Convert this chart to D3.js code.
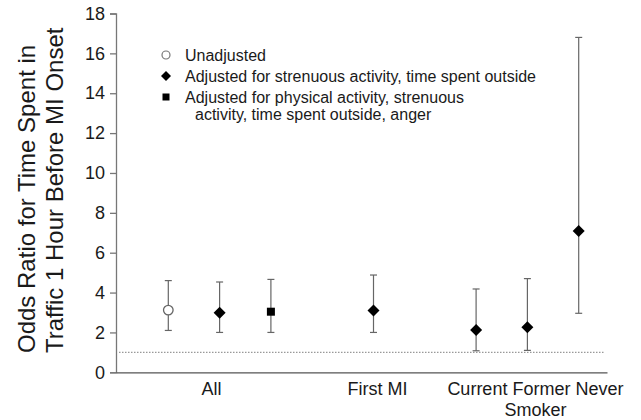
<!DOCTYPE html>
<html>
<head>
<meta charset="utf-8">
<script src="https://cdn.jsdelivr.net/npm/d3@7"></script>
<style>
  body { margin: 0; background: #fff; }
  text { font-family: "Liberation Sans", Arial, Helvetica, sans-serif; fill: #1a1a1a; }
</style>
</head>
<body>
<div id="chart"></div>
<script>
// slots along the x axis (gaps keep the groups apart)
var slots = ["All-U", "All-A1", "All-A2", "gap1", "First MI", "gap2", "Current", "Former", "Never"]

// one entry per point
var pointSlot = ["All-U", "All-A1", "All-A2", "First MI", "Current", "Former", "Never"]
var pointModel = ["unadj", "adj1", "adj2", "adj1", "adj1", "adj1", "adj1"]
var oddsRatio = [3.12, 2.99, 3.04, 3.10, 2.12, 2.26, 7.09]
var lowerCI = [2.10, 2.00, 2.00, 2.00, 1.08, 1.10, 2.96]
var upperCI = [4.60, 4.53, 4.66, 4.88, 4.18, 4.70, 16.8]

var yTicks = [0, 2, 4, 6, 8, 10, 12, 14, 16, 18]
var refLine = 1

var legendModels = ["unadj", "adj1", "adj2"]
var legendLabels = [
  ["Unadjusted"],
  ["Adjusted for strenuous activity, time spent outside"],
  ["Adjusted for physical activity, strenuous", "activity, time spent outside, anger"]
]

var groupLabels = [["All"], ["First MI"], ["Current Former Never", "Smoker"]]
var groupAnchor = ["All-A1", "First MI", "Former"]

var yTitle = ["Odds Ratio for Time Spent in", "Traffic 1 Hour Before MI Onset"]

var width = 641
var height = 420

var svg = d3.select("#chart")
  .append("svg")
    .attr("width", width)
    .attr("height", height)

var x = d3.scalePoint()
  .domain(slots)
  .range([168.3, 578.7])

var y = d3.scaleLinear()
  .domain([0, 18])
  .range([372.3, 13.5])

var axisLeft = 116
var axisRight = 607

// y axis
var yAxis = svg.append("g")
  .attr("transform", "translate(" + axisLeft + ",0)")
  .call(d3.axisLeft(y).tickValues(yTicks).tickSize(6).tickPadding(5))
yAxis.select(".domain").attr("stroke", "#777").attr("stroke-width", 1.3)
yAxis.selectAll(".tick line").attr("stroke", "#777").attr("stroke-width", 1.3)
yAxis.selectAll(".tick text")
  .style("font-size", "18px")
  .attr("fill", "#1a1a1a")

// x axis line (no ticks)
var xAxis = svg.append("g")
  .attr("transform", "translate(0," + y(0) + ")")
  .call(d3.axisBottom(d3.scaleLinear().domain([0, 1]).range([axisLeft, axisRight])).tickValues([]).tickSizeOuter(0))
xAxis.select(".domain").attr("stroke", "#555").attr("stroke-width", 1.3)

// reference line at OR = 1
svg.append("line")
  .attr("x1", axisLeft + 3)
  .attr("x2", axisRight - 2)
  .attr("y1", y(refLine))
  .attr("y2", y(refLine))
  .attr("stroke", "#999")
  .attr("stroke-width", 1.2)
  .attr("stroke-dasharray", "1.5,1.5")

// error bars
var cap = 3.5
var bars = svg.append("g")
  .selectAll("g")
  .data(pointSlot.map((s, i) => i))
  .enter().append("g")
  .attr("stroke", "#666")
  .attr("stroke-width", 1.2)

bars.append("line")
  .attr("x1", i => x(pointSlot[i]))
  .attr("x2", i => x(pointSlot[i]))
  .attr("y1", i => y(lowerCI[i]))
  .attr("y2", i => y(upperCI[i]))
bars.append("line")
  .attr("x1", i => x(pointSlot[i]) - cap)
  .attr("x2", i => x(pointSlot[i]) + cap)
  .attr("y1", i => y(upperCI[i]))
  .attr("y2", i => y(upperCI[i]))
bars.append("line")
  .attr("x1", i => x(pointSlot[i]) - cap)
  .attr("x2", i => x(pointSlot[i]) + cap)
  .attr("y1", i => y(lowerCI[i]))
  .attr("y2", i => y(lowerCI[i]))

// markers
function marker(sel, model, cx, cy) {
  if (model == "unadj") {
    sel.append("circle")
      .attr("cx", cx).attr("cy", cy).attr("r", 4.8)
      .attr("fill", "#fff").attr("stroke", "#666").attr("stroke-width", 1.3)
  } else if (model == "adj1") {
    sel.append("path")
      .attr("d", "M" + cx + "," + (cy - 6) + "L" + (cx + 6) + "," + cy + "L" + cx + "," + (cy + 6) + "L" + (cx - 6) + "," + cy + "Z")
      .attr("fill", "#000")
  } else {
    sel.append("rect")
      .attr("x", cx - 4).attr("y", cy - 4).attr("width", 8).attr("height", 8)
      .attr("fill", "#000")
  }
}

var pts = svg.append("g")
pointSlot.forEach((s, i) => marker(pts, pointModel[i], x(s), y(oddsRatio[i])))

// group labels under the axis
groupLabels.forEach((lines, i) => {
  var shift = i == 0 ? -8 : (i == 1 ? 4 : 8)
  var t = svg.append("text")
    .attr("x", x(groupAnchor[i]) + shift)
    .attr("y", 395)
    .attr("text-anchor", "middle")
    .style("font-size", "18px")
  lines.forEach((l, j) => {
    t.append("tspan")
      .attr("x", x(groupAnchor[i]) + shift)
      .attr("dy", j == 0 ? 0 : 21)
      .text(l)
  })
})

// legend
var legend = svg.append("g")
legendModels.forEach((m, i) => {
  var ly = 55 + i * 21
  var lx = 166
  if (m == "unadj") {
    legend.append("circle").attr("cx", lx).attr("cy", ly).attr("r", 4)
      .attr("fill", "#fff").attr("stroke", "#777").attr("stroke-width", 1.2)
  } else if (m == "adj1") {
    legend.append("path")
      .attr("d", "M" + lx + "," + (ly - 5) + "L" + (lx + 5) + "," + ly + "L" + lx + "," + (ly + 5) + "L" + (lx - 5) + "," + ly + "Z")
      .attr("fill", "#000")
  } else {
    legend.append("rect").attr("x", lx - 3.5).attr("y", ly - 3.5).attr("width", 7).attr("height", 7)
      .attr("fill", "#000")
  }
  legendLabels[i].forEach((l, j) => {
    legend.append("text")
      .attr("x", j == 0 ? 185 : 195)
      .attr("y", ly + 5.5 + j * 17)
      .style("font-size", "16px")
      .text(l)
  })
})

// y axis title
yTitle.forEach((l, i) => {
  svg.append("text")
    .attr("transform", "translate(" + (35 + i * 27.5) + ",353) rotate(-90)")
    .attr("text-anchor", "start")
    .style("font-size", "24px")
    .text(l)
})
</script>
</body>
</html>
